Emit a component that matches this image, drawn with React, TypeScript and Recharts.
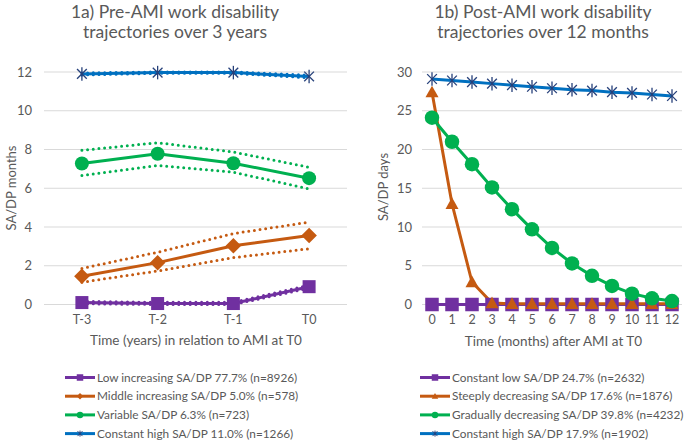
import React from 'react';
import { LineChart, Line, XAxis, YAxis, CartesianGrid } from 'recharts';

// ---------- data: 1a) pre-AMI (years) ----------
const preCategories = ['T-3', 'T-2', 'T-1', 'T0'];
const preLow = [0.1, 0.05, 0.05, 0.92];
const preLowUpper = [0.16, 0.11, 0.11, 1.0];
const preLowLower = [0.04, 0.0, 0.0, 0.84];
const preMiddle = [1.46, 2.16, 3.03, 3.56];
const preMiddleUpper = [1.86, 2.7, 3.66, 4.25];
const preMiddleLower = [1.15, 1.73, 2.42, 2.88];
const preVariable = [7.28, 7.78, 7.29, 6.52];
const preVariableUpper = [7.96, 8.35, 7.87, 7.08];
const preVariableLower = [6.66, 7.18, 6.83, 5.97];
const preHigh = [11.9, 11.97, 11.97, 11.77];
const preHighUpper = [11.95, 12.0, 12.0, 11.84];
const preHighLower = [11.85, 11.93, 11.93, 11.7];
const preTicks = [0, 2, 4, 6, 8, 10, 12];

// ---------- data: 1b) post-AMI (months) ----------
const postCategories = ['0', '1', '2', '3', '4', '5', '6', '7', '8', '9', '10', '11', '12'];
const postLow = [0, 0, 0, 0, 0, 0, 0, 0, 0, 0, 0, 0, 0];
const postSteep = [27.4, 13.0, 2.9, 0.2, 0.1, 0.1, 0.1, 0.1, 0.1, 0.1, 0.1, 0.1, 0.1];
const postGradual = [24.1, 21.0, 18.1, 15.1, 12.3, 9.7, 7.3, 5.3, 3.7, 2.4, 1.4, 0.8, 0.45];
const postHigh = [29.1, 28.9, 28.7, 28.5, 28.3, 28.1, 27.9, 27.7, 27.6, 27.4, 27.3, 27.1, 26.9];
const postTicks = [0, 5, 10, 15, 20, 25, 30];

// ---------- labels ----------
const preLegend = [
  'Low increasing SA/DP 77.7% (n=8926)',
  'Middle increasing SA/DP 5.0% (n=578)',
  'Variable SA/DP 6.3% (n=723)',
  'Constant high SA/DP 11.0% (n=1266)',
];
const postLegend = [
  'Constant low SA/DP 24.7% (n=2632)',
  'Steeply decreasing SA/DP 17.6% (n=1876)',
  'Gradually decreasing SA/DP 39.8% (n=4232)',
  'Constant high SA/DP 17.9% (n=1902)',
];

const PURPLE = '#7030A0';
const ORANGE = '#C55A11';
const GREEN = '#00B050';
const BLUE = '#0070C0';
const NAVY = '#26407A';
const TEXT = '#595959';
const GRID = '#D9D9D9';
const FONT = 'Lato, "Open Sans", sans-serif';

const preData = preCategories.map((cat, i) => ({
  cat,
  low: preLow[i], lowU: preLowUpper[i], lowL: preLowLower[i],
  mid: preMiddle[i], midU: preMiddleUpper[i], midL: preMiddleLower[i],
  vari: preVariable[i], variU: preVariableUpper[i], variL: preVariableLower[i],
  high: preHigh[i], highU: preHighUpper[i], highL: preHighLower[i],
}));

const postData = postCategories.map((cat, i) => ({
  cat,
  low: postLow[i],
  steep: postSteep[i],
  grad: postGradual[i],
  high: postHigh[i],
}));

type Shape = 'square' | 'diamond' | 'circle' | 'star' | 'triangle';

function marker(shape: Shape, cx: number, cy: number, size: number, color: string, key?: string) {
  const h = size / 2;
  switch (shape) {
    case 'square':
      return <rect key={key} x={cx - h} y={cy - h} width={size} height={size} fill={color} />;
    case 'diamond':
      return <polygon key={key} points={`${cx},${cy - h} ${cx + h},${cy} ${cx},${cy + h} ${cx - h},${cy}`} fill={color} />;
    case 'circle':
      return <circle key={key} cx={cx} cy={cy} r={h} fill={color} />;
    case 'triangle':
      return <polygon key={key} points={`${cx},${cy - h} ${cx + h},${cy + h * 0.8} ${cx - h},${cy + h * 0.8}`} fill={color} />;
    case 'star': {
      const d = h * 0.72;
      return (
        <g key={key} stroke={NAVY} strokeWidth={1.3}>
          <line x1={cx - d} y1={cy - d} x2={cx + d} y2={cy + d} />
          <line x1={cx - d} y1={cy + d} x2={cx + d} y2={cy - d} />
          <line x1={cx} y1={cy - h} x2={cx} y2={cy + h} />
        </g>
      );
    }
  }
}

const dotOf = (shape: Shape, size: number, color: string, prefix: string) => (props: any) => {
  const { cx, cy, index } = props;
  const key = `${prefix}-${index}`;
  if (cx == null || cy == null) return <g key={key} />;
  return marker(shape, cx, cy, size, color, key) as any;
};

const dotted = (key: string, color: string) => (
  <Line
    key={key}
    dataKey={key}
    stroke={color}
    strokeWidth={3}
    strokeDasharray="0 5.7"
    strokeLinecap="round"
    dot={false}
    activeDot={false}
    isAnimationActive={false}
    type="linear"
  />
);

const PLOT_TOP = 72;
const PLOT_BOTTOM = 304.5;
const H = 441;
const XAXIS_H = 30;

const tickStyle = { fill: TEXT, fontSize: 12.5, fontFamily: FONT };

function LegendIcon({ shape, color, x, y }: { shape: Shape; color: string; x: number; y: number }) {
  return (
    <g>
      <line x1={x} y1={y} x2={x + 30} y2={y} stroke={color} strokeWidth={3} />
      {shape === 'star' ? (
        <g stroke={NAVY} strokeWidth={1}>
          <line x1={x + 12.5} y1={y - 2.5} x2={x + 17.5} y2={y + 2.5} />
          <line x1={x + 12.5} y1={y + 2.5} x2={x + 17.5} y2={y - 2.5} />
          <line x1={x + 15} y1={y - 3} x2={x + 15} y2={y + 3} />
        </g>
      ) : (
        marker(shape, x + 15, y, 6.5, color)
      )}
    </g>
  );
}

export default function App() {
  const preShapes: Shape[] = ['square', 'diamond', 'circle', 'star'];
  const postShapes: Shape[] = ['square', 'triangle', 'circle', 'star'];
  const colors = [PURPLE, ORANGE, GREEN, BLUE];
  const rowY = (i: number) => 377.5 + i * 18.7;

  return (
    <div style={{ position: 'absolute', left: 0, top: 0, width: 685, height: 441, background: '#fff', overflow: 'hidden' }}>
      <div style={{ position: 'absolute', left: 0, top: 0 }}>
        <LineChart
          width={350}
          height={H}
          data={preData}
          margin={{ top: PLOT_TOP, right: 3, bottom: H - PLOT_BOTTOM - XAXIS_H, left: 0 }}
        >
          <CartesianGrid vertical={false} stroke={GRID} strokeWidth={1} />
          <XAxis
            dataKey="cat"
            height={XAXIS_H}
            axisLine={false}
            tickLine={false}
            tickSize={0}
            tickMargin={11}
            tick={tickStyle}
            padding={{ left: 37.9, right: 37.9 }}
            interval={0}
          />
          <YAxis
            width={44}
            domain={[0, 12]}
            ticks={preTicks}
            axisLine={false}
            tickLine={false}
            tickSize={0}
            tickMargin={12}
            tick={{ ...tickStyle, fontSize: 13 }}
          />
          {dotted('lowU', PURPLE)}
          {dotted('lowL', PURPLE)}
          {dotted('midU', ORANGE)}
          {dotted('midL', ORANGE)}
          {dotted('variU', GREEN)}
          {dotted('variL', GREEN)}
          {dotted('highU', BLUE)}
          {dotted('highL', BLUE)}
          <Line dataKey="low" stroke={PURPLE} strokeWidth={3} type="linear" dot={dotOf('square', 13, PURPLE, 'pl')} activeDot={false} isAnimationActive={false} />
          <Line dataKey="mid" stroke={ORANGE} strokeWidth={3} type="linear" dot={dotOf('diamond', 15.5, ORANGE, 'pm')} activeDot={false} isAnimationActive={false} />
          <Line dataKey="vari" stroke={GREEN} strokeWidth={3} type="linear" dot={dotOf('circle', 14, GREEN, 'pv')} activeDot={false} isAnimationActive={false} />
          <Line dataKey="high" stroke={BLUE} strokeWidth={3} type="linear" dot={dotOf('star', 13.5, NAVY, 'ph')} activeDot={false} isAnimationActive={false} />
        </LineChart>
      </div>

      <div style={{ position: 'absolute', left: 340, top: 0 }}>
        <LineChart
          width={345}
          height={H}
          data={postData}
          margin={{ top: PLOT_TOP, right: 3, bottom: H - PLOT_BOTTOM - XAXIS_H, left: 0 }}
        >
          <CartesianGrid vertical={false} stroke={GRID} strokeWidth={1} />
          <XAxis
            dataKey="cat"
            height={XAXIS_H}
            axisLine={false}
            tickLine={false}
            tickSize={0}
            tickMargin={11}
            tick={tickStyle}
            padding={{ left: 10, right: 10 }}
            interval={0}
          />
          <YAxis
            width={82}
            domain={[0, 30]}
            ticks={postTicks}
            axisLine={false}
            tickLine={false}
            tickSize={0}
            tickMargin={10}
            tick={{ ...tickStyle, fontSize: 13 }}
          />
          <Line dataKey="low" stroke={PURPLE} strokeWidth={3} type="linear" dot={dotOf('square', 13.5, PURPLE, 'ql')} activeDot={false} isAnimationActive={false} />
          <Line dataKey="steep" stroke={ORANGE} strokeWidth={3} type="linear" dot={dotOf('triangle', 13, ORANGE, 'qs')} activeDot={false} isAnimationActive={false} />
          <Line dataKey="grad" stroke={GREEN} strokeWidth={3} type="linear" dot={dotOf('circle', 14.5, GREEN, 'qg')} activeDot={false} isAnimationActive={false} />
          <Line dataKey="high" stroke={BLUE} strokeWidth={3} type="linear" dot={dotOf('star', 13.5, NAVY, 'qh')} activeDot={false} isAnimationActive={false} />
        </LineChart>
      </div>

      <svg width={685} height={441} style={{ position: 'absolute', left: 0, top: 0, pointerEvents: 'none' }} fontFamily={FONT} fill={TEXT}>
        <text x={175} y={18} textAnchor="middle" fontSize={17.5}>1a) Pre-AMI work disability</text>
        <text x={175} y={38} textAnchor="middle" fontSize={17.5}>trajectories over 3 years</text>
        <text x={543} y={18} textAnchor="middle" fontSize={17.5}>1b) Post-AMI work disability</text>
        <text x={543} y={38} textAnchor="middle" fontSize={17.5}>trajectories over 12 months</text>

        <text transform="translate(11,188) rotate(-90)" textAnchor="middle" dy="0.35em" fontSize={13}>SA/DP months</text>
        <text transform="translate(383,187) rotate(-90)" textAnchor="middle" dy="0.35em" fontSize={13}>SA/DP days</text>

        <text x={196} y={345} textAnchor="middle" fontSize={13.5}>Time (years) in relation to AMI at T0</text>
        <text x={553.5} y={346} textAnchor="middle" fontSize={13.5}>Time (months) after AMI at T0</text>

        {preLegend.map((label, i) => (
          <g key={`pl${i}`}>
            <LegendIcon shape={preShapes[i]} color={colors[i]} x={65} y={rowY(i)} />
            <text x={97} y={rowY(i) + 4.2} fontSize={11.8}>{label}</text>
          </g>
        ))}
        {postLegend.map((label, i) => (
          <g key={`ql${i}`}>
            <LegendIcon shape={postShapes[i]} color={colors[i]} x={420} y={rowY(i)} />
            <text x={452} y={rowY(i) + 4.2} fontSize={11.8}>{label}</text>
          </g>
        ))}
      </svg>
    </div>
  );
}
